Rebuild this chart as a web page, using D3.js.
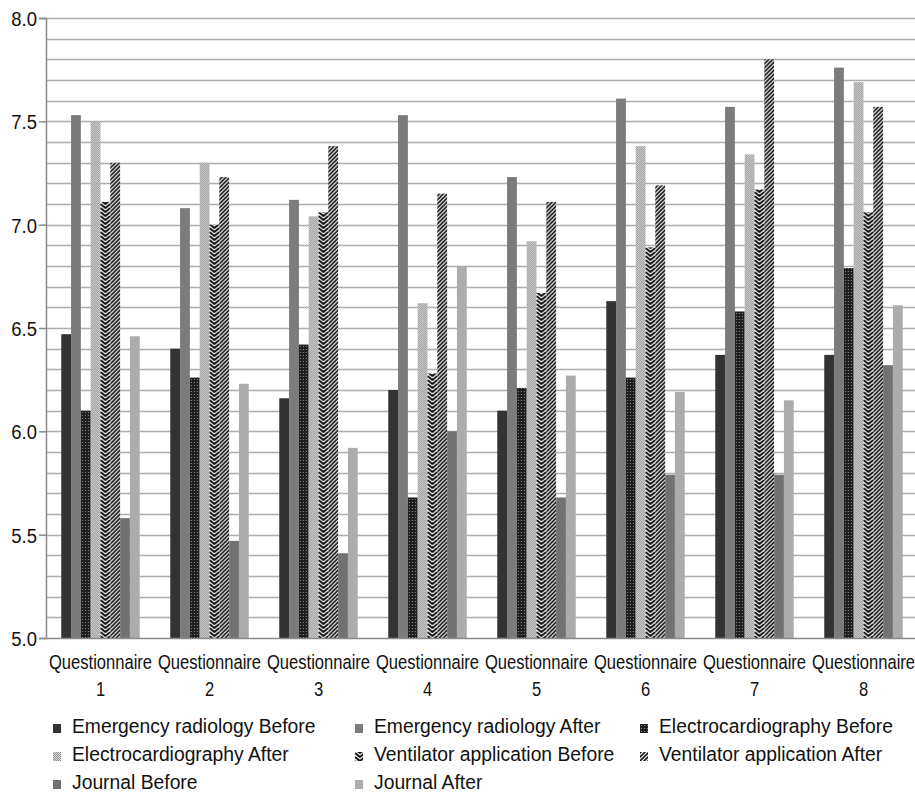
<!DOCTYPE html>
<html>
<head>
<meta charset="utf-8">
<script src="https://cdn.jsdelivr.net/npm/d3@7"></script>
<style>
  body { margin: 0; background: #fff; }
  svg text { font-family: "Liberation Sans", Arial, sans-serif; fill: #111; }
</style>
</head>
<body>
<div id="chart"></div>
<script>
const categories = ['1', '2', '3', '4', '5', '6', '7', '8'];
const seriesNames = [
  'Emergency radiology Before', 'Emergency radiology After', 'Electrocardiography Before',
  'Electrocardiography After', 'Ventilator application Before', 'Ventilator application After',
  'Journal Before', 'Journal After'
];
const erBefore   = [6.47, 6.40, 6.16, 6.20, 6.10, 6.63, 6.37, 6.37];
const erAfter    = [7.53, 7.08, 7.12, 7.53, 7.23, 7.61, 7.57, 7.76];
const ecgBefore  = [6.10, 6.26, 6.42, 5.68, 6.21, 6.26, 6.58, 6.79];
const ecgAfter   = [7.50, 7.30, 7.04, 6.62, 6.92, 7.38, 7.34, 7.69];
const ventBefore = [7.11, 7.00, 7.06, 6.28, 6.67, 6.89, 7.17, 7.06];
const ventAfter  = [7.30, 7.23, 7.38, 7.15, 7.11, 7.19, 7.80, 7.57];
const jBefore    = [5.58, 5.47, 5.41, 6.00, 5.68, 5.79, 5.79, 6.32];
const jAfter     = [6.46, 6.23, 5.92, 6.80, 6.27, 6.19, 6.15, 6.61];
const yTicks = [5.0, 5.5, 6.0, 6.5, 7.0, 7.5, 8.0];

const series = [erBefore, erAfter, ecgBefore, ecgAfter, ventBefore, ventAfter, jBefore, jAfter];

const width = 915, height = 792;
const plot = { left: 46, right: 918, top: 18, bottom: 638 };

const svg = d3.select('#chart').append('svg')
    .attr('width', width)
    .attr('height', height);

const x0 = d3.scaleBand().domain(categories).range([plot.left, plot.right])
    .paddingInner(0.28).paddingOuter(0.14);
const x1 = d3.scaleBand().domain(d3.range(series.length)).range([0, x0.bandwidth()]);
const y = d3.scaleLinear().domain([5, 8]).range([plot.bottom, plot.top]);

// patterns
const defs = svg.append('defs');
const bw = x1.bandwidth();

const ecgB = defs.append('pattern').attr('id', 'ecgB')
    .attr('patternUnits', 'userSpaceOnUse').attr('width', 3).attr('height', 3);
ecgB.append('rect').attr('width', 3).attr('height', 3).attr('fill', '#1e1e1e');
ecgB.append('rect').attr('x', 1).attr('y', 1).attr('width', 1).attr('height', 1).attr('fill', '#8a8a8a');

const ecgA = defs.append('pattern').attr('id', 'ecgA')
    .attr('patternUnits', 'userSpaceOnUse').attr('width', 2).attr('height', 2);
ecgA.append('rect').attr('width', 2).attr('height', 2).attr('fill', '#e0e0e0');
ecgA.append('rect').attr('width', 1).attr('height', 1).attr('fill', '#8c8c8c');
ecgA.append('rect').attr('x', 1).attr('y', 1).attr('width', 1).attr('height', 1).attr('fill', '#8c8c8c');

const ventB = defs.append('pattern').attr('id', 'ventB')
    .attr('patternUnits', 'userSpaceOnUse').attr('width', bw).attr('height', 4);
ventB.append('rect').attr('width', bw).attr('height', 4).attr('fill', '#fff');
[-4, 0, 4].forEach(o => {
  ventB.append('path')
      .attr('d', `M0,${o} L${bw / 2},${o + 4} L${bw},${o}`)
      .attr('fill', 'none').attr('stroke', '#111').attr('stroke-width', 2);
});

const ventA = defs.append('pattern').attr('id', 'ventA')
    .attr('patternUnits', 'userSpaceOnUse').attr('width', 4).attr('height', 4);
ventA.append('rect').attr('width', 4).attr('height', 4).attr('fill', '#fff');
ventA.append('path').attr('d', 'M-1,1 L1,-1 M0,4 L4,0 M3,5 L5,3')
    .attr('stroke', '#111').attr('stroke-width', 1.6);

const fills = ['#333333', '#7b7b7b', 'url(#ecgB)', 'url(#ecgA)', 'url(#ventB)', 'url(#ventA)', '#727272', '#acacac'];

// gridlines every 0.1
const grid = d3.range(51, 81).map(d => d / 10);
svg.append('g').selectAll('line').data(grid).join('line')
    .attr('x1', plot.left).attr('x2', plot.right)
    .attr('y1', d => Math.round(y(d)) + 0.5).attr('y2', d => Math.round(y(d)) + 0.5)
    .attr('stroke', '#adadad').attr('stroke-width', 1.3);

// bars
const groups = svg.append('g').selectAll('g').data(categories).join('g');
groups.each(function (c, ci) {
  const g = d3.select(this);
  series.forEach((s, si) => {
    const bx = x0(c) + x1(si);
    g.append('g').attr('transform', `translate(${bx},0)`)
      .append('rect')
        .attr('x', 0)
        .attr('y', y(s[ci]))
        .attr('width', bw)
        .attr('height', y(5) - y(s[ci]))
        .attr('fill', fills[si]);
  });
});

// axes
const yAxis = svg.append('g').attr('transform', `translate(${plot.left},0)`)
    .call(d3.axisLeft(y).tickValues(yTicks).tickFormat(d3.format('.1f')).tickSize(7));
yAxis.select('.domain').attr('stroke', '#8a8a8a').attr('stroke-width', 1.5);
yAxis.selectAll('.tick line').attr('stroke', '#8a8a8a').attr('stroke-width', 1.5);
yAxis.selectAll('.tick text').remove();
yAxis.selectAll('.tick').append('text')
    .attr('transform', 'translate(-9,0) scale(0.88,1)')
    .attr('text-anchor', 'end')
    .attr('dy', '0.36em')
    .attr('font-size', 21)
    .attr('fill', '#111')
    .text(d => d3.format('.1f')(d));

svg.append('line').attr('x1', plot.left).attr('x2', plot.right)
    .attr('y1', plot.bottom + 0.5).attr('y2', plot.bottom + 0.5)
    .attr('stroke', '#8a8a8a').attr('stroke-width', 1.5);

// category labels
const catLabels = svg.append('g').selectAll('text').data(categories).join('text')
    .attr('text-anchor', 'middle')
    .attr('font-size', 19.5)
    .attr('transform', d => `translate(${x0(d) + x0.bandwidth() / 2},669) scale(0.85,1)`);
catLabels.append('tspan').attr('x', 0).attr('y', 0).text('Questionnaire');
catLabels.append('tspan').attr('x', 0).attr('y', 27).text(d => d);

// legend
const legCols = [53, 355, 640];
const legRows = [733, 761, 789];
const legend = svg.append('g').selectAll('g').data(seriesNames).join('g')
    .attr('transform', (d, i) => `translate(${legCols[i % 3]},${legRows[Math.floor(i / 3)]})`);
legend.append('rect')
    .attr('x', 0).attr('y', -9).attr('width', 8).attr('height', 9)
    .attr('fill', (d, i) => fills[i]);
legend.append('text')
    .attr('transform', 'translate(19,0) scale(0.92,1)')
    .attr('font-size', 21)
    .text(d => d);
</script>
</body>
</html>
